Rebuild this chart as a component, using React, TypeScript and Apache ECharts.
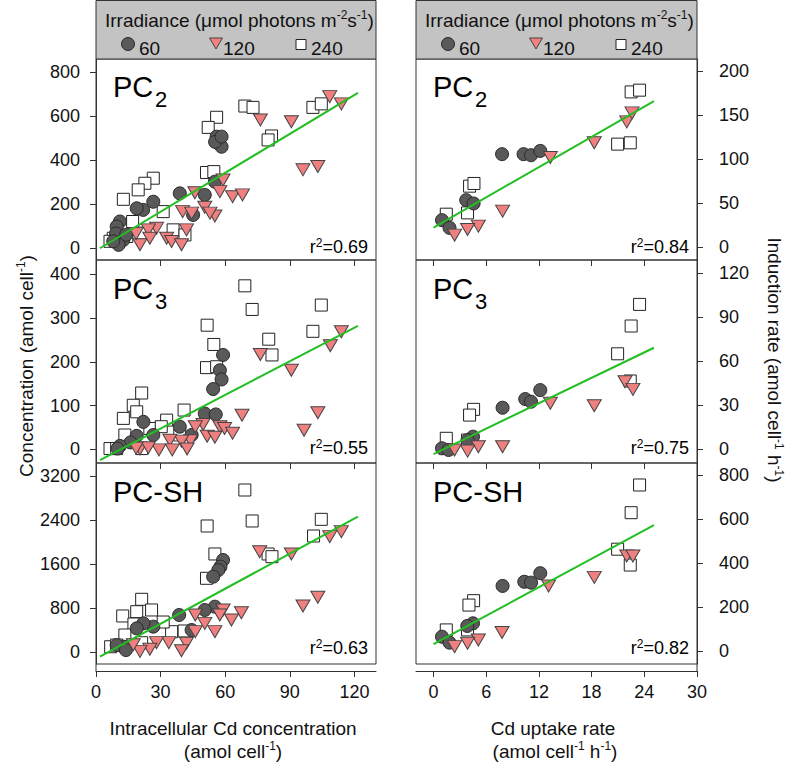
import React, { useEffect, useRef } from "react";
import * as echarts from "echarts";

// ---------- tick labels ----------
const X_TICKS_CONC = [0, 30, 60, 90, 120];
const X_TICKS_RATE = [0, 6, 12, 18, 24, 30];
const Y_TICKS_PC2_CONC = [0, 200, 400, 600, 800];
const Y_TICKS_PC3_CONC = [0, 100, 200, 300, 400];
const Y_TICKS_SH_CONC = [0, 800, 1600, 2400, 3200];
const Y_TICKS_PC2_RATE = [0, 50, 100, 150, 200];
const Y_TICKS_PC3_RATE = [0, 30, 60, 90, 120];
const Y_TICKS_SH_RATE = [0, 200, 400, 600, 800];

const LEGEND_LABELS = ["60", "120", "240"];

// ---------- left column: concentration vs intracellular Cd ----------
const PC2_CONC_60: [number, number][] = [
  [56, 506], [58.3, 460], [55.3, 482], [58.3, 506], [55.2, 301], [50.5, 241], [38.9, 248], [45.1, 150],
  [26.6, 210], [21.9, 173], [18.9, 180], [11.1, 120], [9.6, 97], [9.3, 65], [12.7, 36], [10.5, 14], [14, 60], [8, 30],
];
const PC2_CONC_120: [number, number][] = [
  [108.5, 688], [113.9, 655], [76.3, 582], [90.7, 574], [96.1, 355], [103, 370], [59, 309], [57.5, 256],
  [45.9, 251], [63.4, 233], [68, 241], [50.5, 185], [40.2, 165], [44.4, 158], [55.2, 145], [52.9, 158],
  [28.1, 89], [24.3, 82], [42, 82], [32.8, 44], [35.1, 29], [39.7, 14], [20.4, 14], [25, 44], [18.6, 65],
];
const PC2_CONC_240: [number, number][] = [
  [69.1, 645], [72.9, 639], [100.7, 639], [104.6, 655], [81.5, 509], [79.9, 491], [56, 594], [52.1, 548],
  [51.3, 343], [54.7, 347], [26.6, 317], [22.7, 294], [19.6, 264], [12.7, 221], [31.2, 165], [35.8, 82],
  [41.3, 59], [21.2, 67], [13.4, 97], [14.3, 52], [8, 44], [6.5, 30], [17, 120],
];
const PC3_CONC_60: [number, number][] = [
  [59, 216], [57.5, 181], [58.3, 160], [54.4, 138], [50.5, 82], [55.6, 80], [38.9, 52], [44.4, 33],
  [26.6, 33], [22, 63], [18.9, 31], [16, 16], [11.1, 8], [10, 2],
];
const PC3_CONC_120: [number, number][] = [
  [113.9, 269], [108.8, 237], [76.3, 217], [90.7, 181], [67.8, 78], [103, 84], [96.6, 44], [49.7, 57],
  [46.1, 52], [57.5, 52], [59.7, 48], [63.4, 37], [51.6, 30], [55.2, 28], [43.9, 20], [39.7, 19],
  [34.3, 21], [35.4, -1], [29.2, -1], [42.3, 1], [20.4, 1], [24.3, 4], [18.6, 3],
];
const PC3_CONC_240: [number, number][] = [
  [69.1, 374], [72.5, 320], [104.6, 330], [100.7, 270], [80.2, 252], [81.7, 216], [51.6, 284], [54.7, 240],
  [51.3, 187], [56, 189], [21.2, 129], [17.3, 101], [12.7, 71], [18.9, 86], [40.9, 90], [32.8, 67],
  [25, 48], [13.4, 33], [30.3, 52], [21.2, 2], [6.5, 2], [9.6, 2], [38.9, 33],
];
const SH_CONC_60: [number, number][] = [
  [59, 1673], [57.8, 1551], [56.8, 1490], [54.4, 1369], [55.2, 824], [50.5, 764], [38.6, 673], [44.4, 400],
  [26.6, 461], [22, 521], [18.9, 430], [12.7, 97], [9.6, 127], [13.9, 36],
];
const SH_CONC_120: [number, number][] = [
  [113.9, 2188], [108.5, 2097], [76, 1824], [90.7, 1782], [96.1, 836], [103, 994], [59, 764], [67.5, 715],
  [57.5, 673], [46.1, 673], [62.9, 582], [50.5, 521], [55.2, 370], [46.1, 370], [42, 158], [39.7, 24],
  [33.8, 170], [28.1, 170], [25, 49], [20.4, 12], [17.3, 133],
];
const SH_CONC_240: [number, number][] = [
  [69.1, 2945], [72.5, 2382], [104.6, 2412], [101, 2109], [51.6, 2291], [55.2, 1782], [79.9, 1782], [81.7, 1733],
  [51.3, 1340], [21.2, 958], [18.9, 733], [25.8, 764], [12.4, 655], [17.6, 509], [40.9, 382], [35.1, 369],
  [31.2, 545], [13.4, 309], [21.2, 169], [6.8, 96], [9.6, 127],
];

// ---------- right column: induction rate vs Cd uptake rate ----------
const PC2_RATE_60: [number, number][] = [
  [7.8, 105.6], [10.25, 105.6], [11.1, 104.4], [12.15, 109.3], [3.72, 53.2], [4.56, 49.4], [0.96, 30.4], [1.82, 21.6],
];
const PC2_RATE_120: [number, number][] = [
  [13.3, 101.8], [18.3, 118.5], [22.0, 142.4], [22.6, 152.6], [7.86, 40.7], [5.1, 23.6], [3.87, 19.8], [2.39, 13.3],
];
const PC2_RATE_240: [number, number][] = [
  [22.5, 176.5], [23.46, 178.5], [20.96, 117], [22.4, 118.5], [4.1, 69.1], [4.6, 72.2], [3.87, 38.7], [1.45, 37.2],
];
const PC3_RATE_60: [number, number][] = [
  [12.15, 40.3], [10.44, 34.2], [11.1, 32.4], [7.86, 28.3], [4.49, 8.6], [3.87, 6.3], [0.96, 0.7], [1.71, -0.4],
];
const PC3_RATE_120: [number, number][] = [
  [13.3, 31.3], [18.3, 29.7], [21.8, 46], [22.7, 40.8], [7.86, 1.8], [5.1, 1.8], [3.87, -1.2], [2.39, -0.5],
];
const PC3_RATE_240: [number, number][] = [
  [23.46, 98.6], [22.5, 83.9], [20.96, 65], [22.4, 46.5], [4.56, 27.2], [4.1, 23.3], [1.45, 7.5], [3.87, 6.3],
];
const SH_RATE_60: [number, number][] = [
  [12.15, 355], [10.33, 316], [11.1, 312], [7.86, 297], [4.49, 127], [3.84, 115], [0.96, 66], [1.82, 39],
];
const SH_RATE_120: [number, number][] = [
  [13.1, 297], [18.3, 336], [22.0, 433], [22.7, 433], [7.8, 85], [5.1, 51], [3.87, 36], [2.39, 21],
];
const SH_RATE_240: [number, number][] = [
  [23.46, 756], [22.5, 630], [20.96, 464], [22.4, 392], [4.56, 230], [4.03, 210], [1.45, 97], [3.87, 97],
];

// ---------- regression lines (end points) ----------
const LINE_PC2_CONC: [number, number][] = [[1.85, -1.5], [121.6, 705]];
const LINE_PC3_CONC: [number, number][] = [[1.85, -24.5], [121.6, 282.6]];
const LINE_SH_CONC: [number, number][] = [[1.85, -85], [121.6, 2460]];
const LINE_PC2_RATE: [number, number][] = [[0, 22], [25.1, 166]];
const LINE_PC3_RATE: [number, number][] = [[0, -3.2], [25.1, 69.1]];
const LINE_SH_RATE: [number, number][] = [[0, 32], [25.1, 574]];

const R2 = ["0.69", "0.84", "0.55", "0.75", "0.63", "0.82"];

// ---------- styling ----------
const FONT = "Arial, 'Liberation Sans', Helvetica, sans-serif";
const AX = "#333";
const C60 = "#595959";
const C120 = "#F08080";
const C240 = "#ffffff";
const GREEN = "#22BE22";

const COL_LEFT = [96, 416];
const COL_WIDTH = [280, 281];
const ROW_TOP = [59, 260, 463];
const ROW_HEIGHT = [201, 203, 201];

type Panel = {
  col: number; row: number;
  xr: [number, number]; yr: [number, number];
  xt: number[]; yt: number[];
  d60: [number, number][]; d120: [number, number][]; d240: [number, number][];
  line: [number, number][];
  name: string; sub: string; r2: string;
};

const PANELS: Panel[] = [
  { col: 0, row: 0, xr: [0, 130], yr: [-55, 859], xt: X_TICKS_CONC, yt: Y_TICKS_PC2_CONC, d60: PC2_CONC_60, d120: PC2_CONC_120, d240: PC2_CONC_240, line: LINE_PC2_CONC, name: "PC", sub: "2", r2: R2[0] },
  { col: 1, row: 0, xr: [-2, 30], yr: [-15, 214], xt: X_TICKS_RATE, yt: Y_TICKS_PC2_RATE, d60: PC2_RATE_60, d120: PC2_RATE_120, d240: PC2_RATE_240, line: LINE_PC2_RATE, name: "PC", sub: "2", r2: R2[1] },
  { col: 0, row: 1, xr: [0, 130], yr: [-31, 433], xt: X_TICKS_CONC, yt: Y_TICKS_PC3_CONC, d60: PC3_CONC_60, d120: PC3_CONC_120, d240: PC3_CONC_240, line: LINE_PC3_CONC, name: "PC", sub: "3", r2: R2[2] },
  { col: 1, row: 1, xr: [-2, 30], yr: [-9.3, 128.8], xt: X_TICKS_RATE, yt: Y_TICKS_PC3_RATE, d60: PC3_RATE_60, d120: PC3_RATE_120, d240: PC3_RATE_240, line: LINE_PC3_RATE, name: "PC", sub: "3", r2: R2[3] },
  { col: 0, row: 2, xr: [0, 130], yr: [-218, 3436], xt: X_TICKS_CONC, yt: Y_TICKS_SH_CONC, d60: SH_CONC_60, d120: SH_CONC_120, d240: SH_CONC_240, line: LINE_SH_CONC, name: "PC-SH", sub: "", r2: R2[4] },
  { col: 1, row: 2, xr: [-2, 30], yr: [-58, 856], xt: X_TICKS_RATE, yt: Y_TICKS_SH_RATE, d60: SH_RATE_60, d120: SH_RATE_120, d240: SH_RATE_240, line: LINE_SH_RATE, name: "PC-SH", sub: "", r2: R2[5] },
];

const PANEL_LABEL_Y = [87, 289, 492];
const R2_Y = [247, 448, 648];

const plain = (v: number) => String(v);

function buildOption() {
  const grid: any[] = [];
  const xAxis: any[] = [];
  const yAxis: any[] = [];
  const series: any[] = [];
  const graphic: any[] = [];

  PANELS.forEach((p, i) => {
    grid.push({
      left: COL_LEFT[p.col], top: ROW_TOP[p.row], width: COL_WIDTH[p.col], height: ROW_HEIGHT[p.row],
      show: true, borderColor: AX, borderWidth: 1, backgroundColor: "transparent",
      containLabel: false, outerBoundsMode: "none",
    });
    const bottom = p.row === 2;
    xAxis.push({
      gridIndex: i, type: "value", min: p.xr[0], max: p.xr[1], position: "bottom",
      offset: bottom ? 7 : 0,
      axisLine: { show: bottom, onZero: false, lineStyle: { color: AX, width: 1 } },
      axisTick: { show: true, inside: false, length: 6, customValues: p.xt, lineStyle: { color: AX } },
      axisLabel: { show: bottom, customValues: p.xt, formatter: plain, margin: 12, color: "#111", fontSize: 18, fontFamily: FONT },
      splitLine: { show: false },
    });
    yAxis.push({
      gridIndex: i, type: "value", min: p.yr[0], max: p.yr[1], position: p.col === 0 ? "left" : "right",
      axisLine: { show: true, onZero: false, lineStyle: { color: AX, width: 1 } },
      axisTick: { show: true, inside: false, length: 6, customValues: p.yt, lineStyle: { color: AX } },
      axisLabel: {
        show: true, customValues: p.yt, formatter: plain, margin: p.col === 0 ? 16 : 22, color: "#111", fontSize: 18, fontFamily: FONT,
        align: p.col === 0 ? "right" : "left",
      },
      splitLine: { show: false },
    });
    series.push({
      type: "scatter", xAxisIndex: i, yAxisIndex: i, data: p.d240, symbol: "rect", symbolSize: 12,
      itemStyle: { color: C240, borderColor: "#222", borderWidth: 1, opacity: 1 },
    });
    series.push({
      type: "scatter", xAxisIndex: i, yAxisIndex: i, data: p.d60, symbol: "circle", symbolSize: 13,
      itemStyle: { color: C60, borderColor: "#2a2a2a", borderWidth: 1, opacity: 1 },
    });
    series.push({
      type: "scatter", xAxisIndex: i, yAxisIndex: i, data: p.d120, symbol: "triangle", symbolRotate: 180,
      symbolSize: [14, 12],
      itemStyle: { color: C120, borderColor: "#444", borderWidth: 1, opacity: 1 },
    });
    series.push({
      type: "line", xAxisIndex: i, yAxisIndex: i, data: p.line, showSymbol: false, symbol: "none",
      lineStyle: { color: GREEN, width: 2 }, z: 5,
    });

    // panel label
    const lx = COL_LEFT[p.col] + 17;
    const ly = PANEL_LABEL_Y[p.row];
    graphic.push({
      type: "text", x: lx, y: ly, z: 10,
      style: { text: p.name, fontSize: 29, fontFamily: FONT, fill: "#000", align: "left", verticalAlign: "middle" },
    });
    if (p.sub) {
      graphic.push({
        type: "text", x: lx + 42, y: ly + 12, z: 10,
        style: { text: p.sub, fontSize: 22, fontFamily: FONT, fill: "#000", align: "left", verticalAlign: "middle" },
      });
    }
    // r2
    graphic.push({
      type: "text", x: COL_LEFT[p.col] + COL_WIDTH[p.col] - 8, y: R2_Y[p.row], z: 10,
      style: {
        text: `{a|r}{s|2}{a|=${p.r2}}`, align: "right", verticalAlign: "middle",
        rich: {
          a: { fontSize: 18, fontFamily: FONT, fill: "#000", lineHeight: 20 },
          s: { fontSize: 12, fontFamily: FONT, fill: "#000", lineHeight: 12, verticalAlign: "top" },
        },
      },
    });
  });

  // legend boxes
  [0, 1].forEach((c) => {
    const x0 = COL_LEFT[c];
    graphic.push({
      type: "rect", shape: { x: x0, y: 0.5, width: COL_WIDTH[c], height: 58.5 }, z: 1,
      style: { fill: "#C3C3C3", stroke: AX, lineWidth: 1 },
    });
    graphic.push({
      type: "text", x: x0 + 9, y: 20, z: 2,
      style: {
        text: "{a|Irradiance (\u03BCmol photons m}{s|-2}{a|s}{s|-1}{a|)}", align: "left", verticalAlign: "middle",
        rich: {
          a: { fontSize: 19, fontFamily: FONT, fill: "#111", lineHeight: 22 },
          s: { fontSize: 12, fontFamily: FONT, fill: "#111", lineHeight: 12, verticalAlign: "top" },
        },
      },
    });
    // symbols
    graphic.push({ type: "circle", shape: { cx: x0 + 32, cy: 44, r: 6.5 }, z: 2, style: { fill: C60, stroke: "#2a2a2a", lineWidth: 1 } });
    graphic.push({
      type: "polygon", z: 2,
      shape: { points: [[x0 + 113.5, 38], [x0 + 126.5, 38], [x0 + 120, 49]] },
      style: { fill: C120, stroke: "#444", lineWidth: 1 },
    });
    graphic.push({ type: "rect", shape: { x: x0 + 200, y: 39.5, width: 10, height: 10 }, z: 2, style: { fill: "#fff", stroke: "#222", lineWidth: 1 } });
    const tx = [x0 + 43, x0 + 127, x0 + 215];
    LEGEND_LABELS.forEach((t, k) => {
      graphic.push({
        type: "text", x: tx[k], y: 48, z: 2,
        style: { text: t, fontSize: 19, fontFamily: FONT, fill: "#111", align: "left", verticalAlign: "middle" },
      });
    });
    // y-axis extension below box
    const ax = c === 0 ? COL_LEFT[0] : COL_LEFT[1] + COL_WIDTH[1];
    graphic.push({ type: "line", shape: { x1: ax, y1: 664, x2: ax, y2: 671 }, z: 2, style: { stroke: AX, lineWidth: 1 } });
  });

  // axis titles
  const richTitle = {
    a: { fontSize: 19, fontFamily: FONT, fill: "#111", lineHeight: 22 },
    s: { fontSize: 12, fontFamily: FONT, fill: "#111", lineHeight: 12, verticalAlign: "top" },
  };
  graphic.push({ type: "text", x: 233, y: 728, style: { text: "{a|Intracellular Cd concentration}", align: "center", verticalAlign: "middle", rich: richTitle } });
  graphic.push({ type: "text", x: 233, y: 751, style: { text: "{a|(amol cell}{s|-1}{a|)}", align: "center", verticalAlign: "middle", rich: richTitle } });
  graphic.push({ type: "text", x: 553, y: 728, style: { text: "{a|Cd uptake rate}", align: "center", verticalAlign: "middle", rich: richTitle } });
  graphic.push({ type: "text", x: 555, y: 751, style: { text: "{a|(amol cell}{s|-1}{a| h}{s|-1}{a|)}", align: "center", verticalAlign: "middle", rich: richTitle } });
  graphic.push({
    type: "text", x: 26, y: 366, rotation: Math.PI / 2,
    style: { text: "{a|Concentration (amol cell}{s|-1}{a|)}", align: "center", verticalAlign: "middle", rich: richTitle },
  });
  graphic.push({
    type: "text", x: 774, y: 360, rotation: -Math.PI / 2,
    style: { text: "{a|Induction rate (amol cell}{s|-1}{a| h}{s|-1}{a|)}", align: "center", verticalAlign: "middle", rich: richTitle },
  });

  return {
    animation: false,
    backgroundColor: "#fff",
    grid, xAxis, yAxis, series, graphic,
  };
}

export default function App() {
  const ref = useRef<HTMLDivElement>(null);
  useEffect(() => {
    if (!ref.current) return;
    const chart = echarts.init(ref.current, null, { renderer: "svg" });
    chart.setOption(buildOption() as any);
    return () => chart.dispose();
  }, []);
  return (
    <div
      ref={ref}
      style={{ position: "fixed", left: 0, top: 0, width: 787, height: 764, background: "#fff" }}
    />
  );
}
